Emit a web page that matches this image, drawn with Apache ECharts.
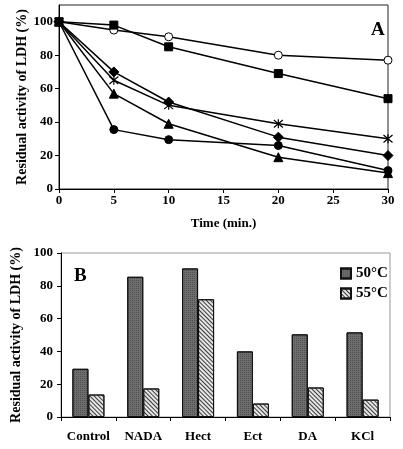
<!DOCTYPE html>
<html>
<head>
<meta charset="utf-8">
<script src="https://cdn.jsdelivr.net/npm/echarts@6/dist/echarts.min.js"></script>
<style>html,body{margin:0;padding:0;background:#fff}#c{width:403px;height:449px}</style>
</head>
<body>
<div id="c"></div>
<script>
// Panel A: time course
const timePoints = [0, 5, 10, 20, 30];
const openCircle = [100, 95, 91, 80, 77];
const filledSquare = [100, 98, 85, 69, 54];
const filledDiamond = [100, 70, 52, 31, 20];
const asterisk = [100, 65, 50, 39, 30];
const filledTriangle = [100, 57, 39, 19, 9.5];
const filledCircle = [100, 35.5, 29.5, 26, 11];
const xTicksA = [0, 5, 10, 15, 20, 25, 30];
const yTicks = [0, 20, 40, 60, 80, 100];

// Panel B: bars
const categories = ['Control', 'NADA', 'Hect', 'Ect', 'DA', 'KCl'];
const temp50 = [29.4, 85.5, 90.6, 40, 50.4, 51.6];
const temp55 = [13.7, 17.4, 71.8, 8.2, 18, 10.6];
const legendNames = ['50°C', '55°C'];

const font = 'Liberation Serif';
const lbl = {fontFamily: font, fontWeight: 'bold', fontSize: 13, color: '#000'};
const nameStyle = {fontFamily: font, fontWeight: 'bold', fontSize: 14, color: '#000'};

const asteriskPath = 'path://M0,0L10,10M10,0L0,10M5,-1L5,11';

function lineSeries(data, symbol, size, fill, extra) {
  return Object.assign({
    type: 'line', xAxisIndex: 0, yAxisIndex: 0,
    data: timePoints.map((t, i) => [t, data[i]]),
    symbol: symbol, symbolSize: size, showSymbol: true,
    lineStyle: {color: '#000', width: 1.5},
    itemStyle: {color: fill, borderColor: '#000', borderWidth: 1},
    z: 3, animation: false
  }, extra || {});
}

const chart = echarts.init(document.getElementById('c'), null, {renderer: 'canvas'});
chart.setOption({
  animation: false,
  title: [
    {text: 'A', left: 366, top: 16, textStyle: {fontFamily: font, fontWeight: 'bold', fontSize: 19, color: '#000'}},
    {text: 'B', left: 69, top: 262, textStyle: {fontFamily: font, fontWeight: 'bold', fontSize: 19, color: '#000'}}
  ],
  grid: [
    {left: 59, right: 15, top: 5, bottom: 260, show: true, borderColor: '#222', borderWidth: 1, containLabel: false, outerBoundsMode: 'none'},
    {left: 61, right: 13, top: 253, bottom: 32, show: true, borderColor: '#999', borderWidth: 1, containLabel: false, outerBoundsMode: 'none'}
  ],
  legend: {
    data: legendNames, orient: 'vertical', left: 335, top: 261, icon: 'rect',
    itemWidth: 10, itemHeight: 10, itemGap: 5,
    textStyle: {fontFamily: font, fontWeight: 'bold', fontSize: 15, color: '#000'}
  },
  xAxis: [
    {gridIndex: 0, type: 'value', min: 0, max: 30, interval: 5,
     name: 'Time (min.)', nameLocation: 'middle', nameGap: 28, nameMoveOverlap: false,
     nameTextStyle: lbl,
     axisLine: {lineStyle: {color: '#000', width: 1}},
     axisTick: {show: true, inside: false, length: 4, lineStyle: {color: '#000'}},
     axisLabel: Object.assign({margin: 5}, lbl),
     splitLine: {show: false}},
    {gridIndex: 1, type: 'category', data: categories,
     axisLine: {lineStyle: {color: '#000', width: 1}},
     axisTick: {show: true, inside: false, length: 4, alignWithLabel: false, lineStyle: {color: '#000'}},
     axisLabel: Object.assign({margin: 13, interval: 0}, lbl),
     splitLine: {show: false}}
  ],
  yAxis: [
    {gridIndex: 0, type: 'value', min: 0, max: 110, interval: 20,
     name: 'Residual activity of LDH (%)', nameLocation: 'middle', nameGap: 30, nameMoveOverlap: false,
     nameTextStyle: nameStyle,
     axisLine: {show: true, lineStyle: {color: '#000', width: 1}},
     axisTick: {show: true, inside: false, length: 4, lineStyle: {color: '#000'}},
     axisLabel: Object.assign({margin: 6, showMaxLabel: false}, lbl),
     splitLine: {show: false}},
    {gridIndex: 1, type: 'value', min: 0, max: 100, interval: 20,
     name: 'Residual activity of LDH (%)', nameLocation: 'middle', nameGap: 38, nameMoveOverlap: false,
     nameTextStyle: nameStyle,
     axisLine: {show: true, lineStyle: {color: '#000', width: 1}},
     axisTick: {show: true, inside: false, length: 4, lineStyle: {color: '#000'}},
     axisLabel: Object.assign({margin: 8}, lbl),
     splitLine: {show: false}}
  ],
  series: [
    lineSeries(filledCircle, 'circle', 8, '#000'),
    lineSeries(filledTriangle, 'triangle', 9, '#000'),
    lineSeries(asterisk, asteriskPath, 9, 'rgba(0,0,0,0)', {itemStyle: {color: 'rgba(0,0,0,0)', borderColor: '#000', borderWidth: 1.2}}),
    lineSeries(filledDiamond, 'diamond', 10, '#000'),
    lineSeries(openCircle, 'circle', 8, '#fff'),
    lineSeries(filledSquare, 'rect', 8, '#000'),
    {type: 'bar', name: legendNames[0], xAxisIndex: 1, yAxisIndex: 1, data: temp50,
     barWidth: 16, barGap: '0%',
     itemStyle: {color: '#6e6e6e', borderColor: '#111', borderWidth: 1,
       decal: {symbol: 'rect', symbolSize: 1, dashArrayX: [1, 1], dashArrayY: [1, 1], color: 'rgba(40,40,40,0.45)'}}},
    {type: 'bar', name: legendNames[1], xAxisIndex: 1, yAxisIndex: 1, data: temp55,
     barWidth: 16, barGap: '0%',
     itemStyle: {color: '#e6e6e6', borderColor: '#111', borderWidth: 1,
       decal: {symbol: 'rect', symbolSize: 1, dashArrayX: [1, 0], dashArrayY: [1, 2], rotation: Math.PI / 4, color: '#3a3a3a'}}}
  ]
});
</script>
</body>
</html>
